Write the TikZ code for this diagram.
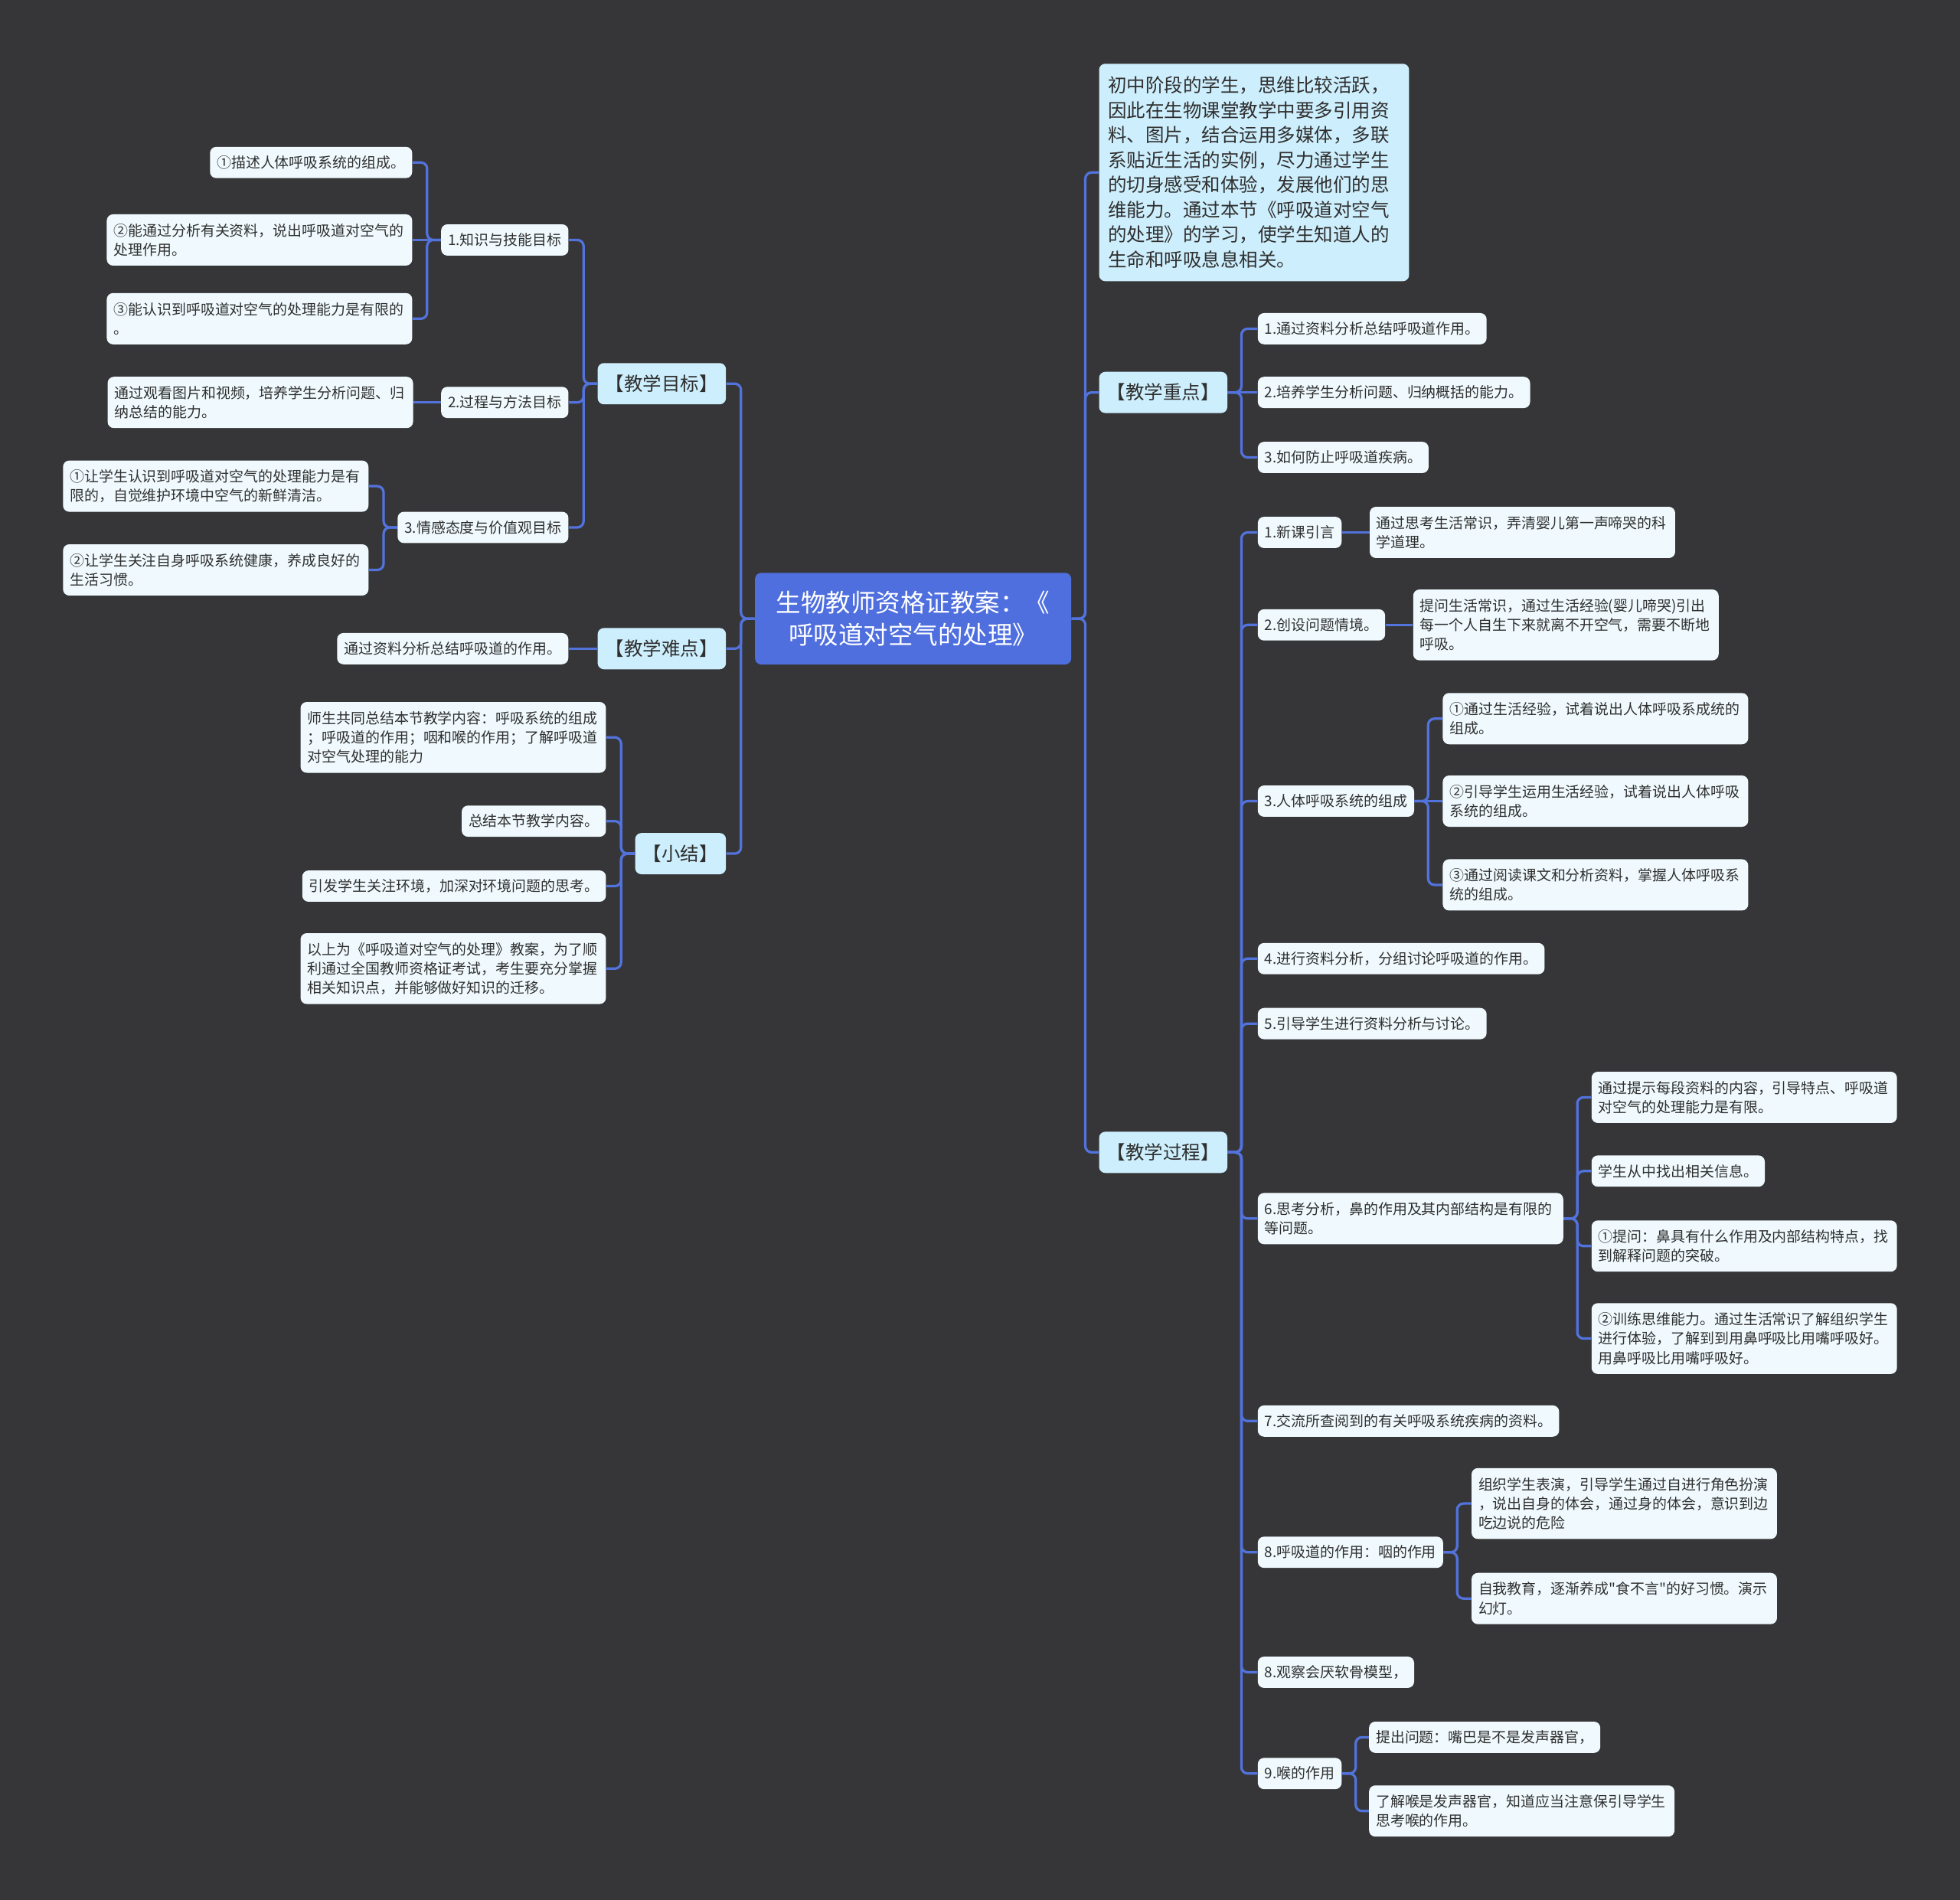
\documentclass[tikz,border=0pt]{standalone}
\usepackage{fontspec}
\usepackage{tikz}
\usetikzlibrary{positioning}
\newfontfamily\cjk{Noto Sans CJK SC}
\definecolor{canvas}{HTML}{363638}
\definecolor{linkblue}{HTML}{5272DC}
\definecolor{rootblue}{HTML}{4F6FDF}
\definecolor{topicfill}{HTML}{CDEEFC}
\definecolor{leaffill}{HTML}{F0FAFE}
\definecolor{ink}{HTML}{2F2F2F}
\newcommand{\linkL}[2]{\draw[link] (#1.west) -- ++(-11,0) |- (#2.east);}
\newcommand{\linkR}[2]{\draw[link] (#1.east) -- ++(11,0) |- (#2.west);}

\begin{document}
\begin{tikzpicture}[
      x=0.03cm, y=-0.03cm,
      root/.style={rounded corners=0.15cm, fill=rootblue, text=white, align=center,
        font=\cjk\fontsize{17}{21.7}\selectfont, minimum width=7.59cm, minimum height=2.2cm},
      topic/.style={rounded corners=0.15cm, fill=topicfill, text=ink, align=left,
        font=\cjk\fontsize{12.8}{16}\selectfont, inner xsep=0.19cm, minimum height=0.99cm},
      leaf/.style={rounded corners=0.15cm, fill=leaffill, text=ink, align=left,
        font=\cjk\fontsize{9.9}{13.2}\selectfont, inner xsep=0.165cm, inner ysep=2pt, minimum height=0.75cm},
      wide/.style={text width=7.0cm},
      two/.style={wide, minimum height=1.23cm},
      three/.style={wide, minimum height=1.70cm},
      link/.style={draw=linkblue, line width=1.7pt, rounded corners=0.15cm}
    ]
    \useasboundingbox (0,0) rectangle (1568,1520);
    \fill[canvas] (0,0) rectangle (1568,1520);

    \node[root] (root) at (730.5,495) {生物教师资格证教案：《\\呼吸道对空气的处理》};

    % left side
    \node[topic, anchor=east] (goal) at (581,307) {【教学目标】};
    \node[topic, anchor=east] (hard) at (581,519) {【教学难点】};
    \node[topic, anchor=east] (summ) at (581,683) {【小结】};

    \node[leaf, anchor=east] (g1) at (455,192) {1.知识与技能目标};
    \node[leaf, anchor=east] (g2) at (455,322) {2.过程与方法目标};
    \node[leaf, anchor=east] (g3) at (455,422) {3.情感态度与价值观目标};

    \node[leaf, anchor=east] (g1a) at (330,130) {①描述人体呼吸系统的组成。};
    \node[leaf, two, anchor=east] (g1b) at (330,192) {②能通过分析有关资料，说出呼吸道对空气的\\处理作用。};
    \node[leaf, two, anchor=east] (g1c) at (330,255) {③能认识到呼吸道对空气的处理能力是有限的\\。};
    \node[leaf, two, left=0.66cm of g2] (g2a) {通过观看图片和视频，培养学生分析问题、归\\纳总结的能力。};
    \node[leaf, two, anchor=east] (g3a) at (295,389) {①让学生认识到呼吸道对空气的处理能力是有\\限的，自觉维护环境中空气的新鲜清洁。};
    \node[leaf, two, anchor=east] (g3b) at (295,456) {②让学生关注自身呼吸系统健康，养成良好的\\生活习惯。};

    \node[leaf, left=0.69cm of hard] (ha) {通过资料分析总结呼吸道的作用。};

    \node[leaf, three, anchor=east] (s1) at (485,590) {师生共同总结本节教学内容：呼吸系统的组成\\；呼吸道的作用；咽和喉的作用；了解呼吸道\\对空气处理的能力};
    \node[leaf, anchor=east] (s2) at (485,657) {总结本节教学内容。};
    \node[leaf, anchor=east] (s3) at (485,709) {引发学生关注环境，加深对环境问题的思考。};
    \node[leaf, three, anchor=east] (s4) at (485,775) {以上为《呼吸道对空气的处理》教案，为了顺\\利通过全国教师资格证考试，考生要充分掌握\\相关知识点，并能够做好知识的迁移。};

    % right side
    \node[topic, anchor=west, text width=7.0cm, inner xsep=0.22cm, minimum height=5.22cm,
      font=\cjk\fontsize{12.8}{17}\selectfont] (intro) at (879,138) {初中阶段的学生，思维比较活跃，\\因此在生物课堂教学中要多引用资\\料、图片，结合运用多媒体，多联\\系贴近生活的实例，尽力通过学生\\的切身感受和体验，发展他们的思\\维能力。通过本节《呼吸道对空气\\的处理》的学习，使学生知道人的\\生命和呼吸息息相关。};
    \node[topic, anchor=west] (key) at (879,314) {【教学重点】};
    \node[topic, anchor=west] (proc) at (879,922) {【教学过程】};

    \node[leaf, anchor=west] (k1) at (1006,263) {1.通过资料分析总结呼吸道作用。};
    \node[leaf, anchor=west] (k2) at (1006,314) {2.培养学生分析问题、归纳概括的能力。};
    \node[leaf, anchor=west] (k3) at (1006,366) {3.如何防止呼吸道疾病。};

    \node[leaf, anchor=west] (p1) at (1006,426) {1.新课引言};
    \node[leaf, two, right=0.66cm of p1] (p1a) {通过思考生活常识，弄清婴儿第一声啼哭的科\\学道理。};
    \node[leaf, anchor=west] (p2) at (1006,500) {2.创设问题情境。};
    \node[leaf, three, right=0.66cm of p2] (p2a) {提问生活常识，通过生活经验(婴儿啼哭)引出\\每一个人自生下来就离不开空气，需要不断地\\呼吸。};
    \node[leaf, anchor=west] (p3) at (1006,641) {3.人体呼吸系统的组成};
    \node[leaf, two, anchor=west] (p3a) at (1154,575) {①通过生活经验，试着说出人体呼吸系成统的\\组成。};
    \node[leaf, two, anchor=west] (p3b) at (1154,641) {②引导学生运用生活经验，试着说出人体呼吸\\系统的组成。};
    \node[leaf, two, anchor=west] (p3c) at (1154,708) {③通过阅读课文和分析资料，掌握人体呼吸系\\统的组成。};
    \node[leaf, anchor=west] (p4) at (1006,767) {4.进行资料分析，分组讨论呼吸道的作用。};
    \node[leaf, anchor=west] (p5) at (1006,819) {5.引导学生进行资料分析与讨论。};
    \node[leaf, two, anchor=west] (p6) at (1006,975) {6.思考分析，鼻的作用及其内部结构是有限的\\等问题。};
    \node[leaf, two, anchor=west] (p6a) at (1273,878) {通过提示每段资料的内容，引导特点、呼吸道\\对空气的处理能力是有限。};
    \node[leaf, anchor=west] (p6b) at (1273,937) {学生从中找出相关信息。};
    \node[leaf, two, anchor=west] (p6c) at (1273,997) {①提问：鼻具有什么作用及内部结构特点，找\\到解释问题的突破。};
    \node[leaf, three, anchor=west] (p6d) at (1273,1071) {②训练思维能力。通过生活常识了解组织学生\\进行体验，了解到到用鼻呼吸比用嘴呼吸好。\\用鼻呼吸比用嘴呼吸好。};
    \node[leaf, anchor=west] (p7) at (1006,1137) {7.交流所查阅到的有关呼吸系统疾病的资料。};
    \node[leaf, anchor=west] (p8) at (1006,1242) {8.呼吸道的作用：咽的作用};
    \node[leaf, three, anchor=west] (p8a) at (1177,1203) {组织学生表演，引导学生通过自进行角色扮演\\，说出自身的体会，通过身的体会，意识到边\\吃边说的危险};
    \node[leaf, two, anchor=west] (p8b) at (1177,1279) {自我教育，逐渐养成"食不言"的好习惯。演示\\幻灯。};
    \node[leaf, anchor=west] (p9) at (1006,1338) {8.观察会厌软骨模型，};
    \node[leaf, anchor=west] (p10) at (1006,1419) {9.喉的作用};
    \node[leaf, anchor=west] (p10a) at (1095,1390) {提出问题：嘴巴是不是发声器官，};
    \node[leaf, two, anchor=west] (p10b) at (1095,1449) {了解喉是发声器官，知道应当注意保引导学生\\思考喉的作用。};

    % connectors
    \foreach \kid in {goal,hard,summ} {\linkL{root}{\kid}}
    \foreach \kid in {g1,g2,g3} {\linkL{goal}{\kid}}
    \foreach \kid in {g1a,g1c} {\linkL{g1}{\kid}}
    \draw[link] (g1) -- (g1b);
    \draw[link] (g2) -- (g2a);
    \foreach \kid in {g3a,g3b} {\linkL{g3}{\kid}}
    \draw[link] (hard) -- (ha);
    \foreach \kid in {s1,s2,s3,s4} {\linkL{summ}{\kid}}

    \foreach \kid in {intro,key,proc} {\linkR{root}{\kid}}
    \foreach \kid in {k1,k3} {\linkR{key}{\kid}}
    \draw[link] (key) -- (k2);
    \foreach \kid in {p1,p2,p3,p4,p5,p6,p7,p8,p9,p10} {\linkR{proc}{\kid}}
    \draw[link] (p1) -- (p1a);
    \draw[link] (p2) -- (p2a);
    \foreach \kid in {p3a,p3c} {\linkR{p3}{\kid}}
    \draw[link] (p3) -- (p3b);
    \foreach \kid in {p6a,p6b,p6c,p6d} {\linkR{p6}{\kid}}
    \foreach \kid in {p8a,p8b} {\linkR{p8}{\kid}}
    \foreach \kid in {p10a,p10b} {\linkR{p10}{\kid}}
  \end{tikzpicture}
\end{document}
